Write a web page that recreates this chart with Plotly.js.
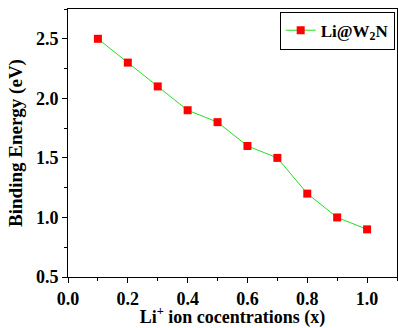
<!DOCTYPE html>
<html>
<head>
<meta charset="utf-8">
<script src="https://cdn.plot.ly/plotly-3.0.1.min.js"></script>
<style>
  html, body { margin: 0; padding: 0; background: #fff; }
  #chart { width: 398px; height: 328px; }
</style>
</head>
<body>
<div id="chart"></div>
<script>
// Li concentration vs binding energy
const concentration = [0.1, 0.2, 0.3, 0.4, 0.5, 0.6, 0.7, 0.8, 0.9, 1.0];
const bindingEnergy = [2.5, 2.3, 2.1, 1.9, 1.8, 1.6, 1.5, 1.2, 1.0, 0.9];
const xTickVals = [0, 0.2, 0.4, 0.6, 0.8, 1.0];
const xTickText = ['0.0', '0.2', '0.4', '0.6', '0.8', '1.0'];
const yTickVals = [0.5, 1.0, 1.5, 2.0, 2.5];
const yTickText = ['0.5', '1.0', '1.5', '2.0', '2.5'];
const seriesName = 'Li@W<sub>2</sub>N';

const fontFamily = '"Liberation Serif", "Times New Roman", serif';
const bold = s => '<b>' + s + '</b>';

const trace = {
  x: concentration,
  y: bindingEnergy,
  name: bold(seriesName),
  type: 'scatter',
  mode: 'lines+markers',
  line: { color: '#22dd22', width: 1 },
  marker: { symbol: 'square', size: 8, color: '#ff0000' },
  showlegend: true
};

const axisCommon = {
  showline: true,
  linecolor: '#000',
  linewidth: 1,
  mirror: true,
  ticks: 'outside',
  ticklen: 5,
  tickwidth: 1,
  tickcolor: '#000',
  showgrid: false,
  zeroline: false,
  tickfont: { family: fontFamily, size: 18, color: '#000' }
};

const layout = {
  width: 398,
  height: 328,
  margin: { l: 68, r: 1, t: 9, b: 51 },
  paper_bgcolor: '#fff',
  plot_bgcolor: '#fff',
  font: { family: fontFamily, color: '#000' },
  xaxis: Object.assign({}, axisCommon, {
    range: [0, 1.1],
    tickvals: xTickVals,
    ticktext: xTickText.map(bold),
    minor: { dtick: 0.1, tick0: 0, ticks: 'outside', ticklen: 3, tickcolor: '#000', showgrid: false },
    title: { text: bold('Li<sup>+</sup> ion cocentrations (x)'), standoff: 6,
             font: { family: fontFamily, size: 18, color: '#000' } }
  }),
  yaxis: Object.assign({}, axisCommon, {
    range: [0.5, 2.75],
    tickvals: yTickVals,
    ticktext: yTickText.map(bold),
    minor: { dtick: 0.25, tick0: 0.5, ticks: 'outside', ticklen: 3, tickcolor: '#000', showgrid: false },
    title: { text: bold('Binding Energy (eV)'), standoff: 8,
             font: { family: fontFamily, size: 19, color: '#000' } }
  }),
  legend: {
    x: 0.993, y: 0.99, xanchor: 'right', yanchor: 'top',
    bordercolor: '#000', borderwidth: 1, bgcolor: '#fff',
    font: { family: fontFamily, size: 17, color: '#000' },
    itemwidth: 30
  }
};

Plotly.newPlot('chart', [trace], layout, { displayModeBar: false, staticPlot: true });
</script>
</body>
</html>
